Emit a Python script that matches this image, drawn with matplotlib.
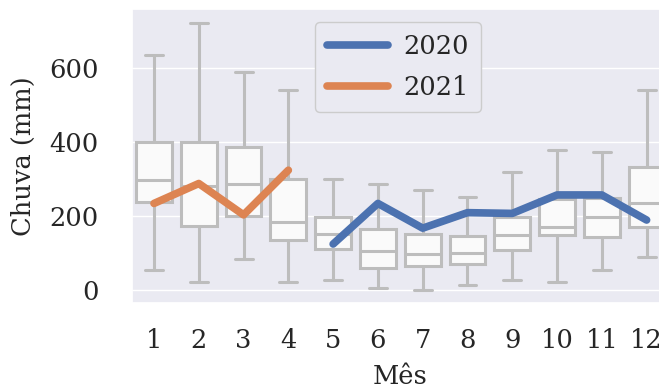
import matplotlib
matplotlib.use("Agg")
import matplotlib.pyplot as plt
import seaborn as sns

# monthly rainfall distribution (mm), historical
meses = [1, 2, 3, 4, 5, 6, 7, 8, 9, 10, 11, 12]
whisker_low = [54, 20, 83, 20, 27, 6, 0, 14, 27, 22, 54, 90]
q1 = [239, 173, 200, 135, 110, 60, 65, 70, 108, 149, 144, 171]
mediana = [297, 280, 288, 185, 150, 106, 97, 99, 149, 171, 196, 234]
q3 = [401, 401, 387, 299, 198, 165, 151, 147, 198, 245, 250, 332]
whisker_high = [637, 724, 590, 541, 299, 286, 270, 251, 320, 378, 374, 542]

# observed rainfall
meses_2020 = [5, 6, 7, 8, 9, 10, 11, 12]
chuva_2020 = [124, 234, 167, 209, 207, 257, 257, 189]
meses_2021 = [1, 2, 3, 4]
chuva_2021 = [234, 288, 203, 324]

sns.set_theme(style="darkgrid")
plt.rcParams["font.family"] = ["DejaVu Serif"]
fs = 18.5

fig = plt.figure(figsize=(6.59, 3.91), dpi=100)
ax = fig.add_axes([0.1997, 0.2258, 0.8155, 0.7504])

stats = []
for i in range(len(meses)):
    stats.append({
        "whislo": whisker_low[i], "q1": q1[i], "med": mediana[i],
        "q3": q3[i], "whishi": whisker_high[i], "fliers": [],
    })

cinza = "#bdbdbd"
ax.bxp(stats, positions=meses, widths=0.8, patch_artist=True,
       showfliers=False,
       boxprops=dict(facecolor="#fafafa", edgecolor=cinza, linewidth=2.2),
       whiskerprops=dict(color=cinza, linewidth=2.2),
       capprops=dict(color=cinza, linewidth=2.2),
       medianprops=dict(color=cinza, linewidth=2.2))

ax.plot(meses_2020, chuva_2020, color="#4C72B0", linewidth=5.5, label="2020",
        solid_capstyle="round", zorder=5)
ax.plot(meses_2021, chuva_2021, color="#DD8452", linewidth=5.5, label="2021",
        solid_capstyle="round", zorder=5)

ax.set_xlim(0.5, 12.5)
ax.set_ylim(-35, 760)
ax.set_yticks([0, 200, 400, 600])
ax.set_xticks(meses)
ax.set_xticklabels([str(m) for m in meses])
ax.grid(axis="x", visible=False)
ax.tick_params(axis="y", labelsize=fs, pad=18)
ax.tick_params(axis="x", labelsize=fs, pad=12)

ax.set_xlabel("Mês", fontsize=fs, labelpad=8)
ax.set_ylabel("Chuva (mm)", fontsize=fs, labelpad=9)

ax.legend(loc="upper left", bbox_to_anchor=(0.3413, 0.9567), borderaxespad=0,
          fontsize=fs, handlelength=2.4, handletextpad=0.6, borderpad=0.45,
          labelspacing=0.65, framealpha=1,
          facecolor="#EAEAF2", edgecolor="#cccccc")

fig.savefig("out.png", dpi=100)
